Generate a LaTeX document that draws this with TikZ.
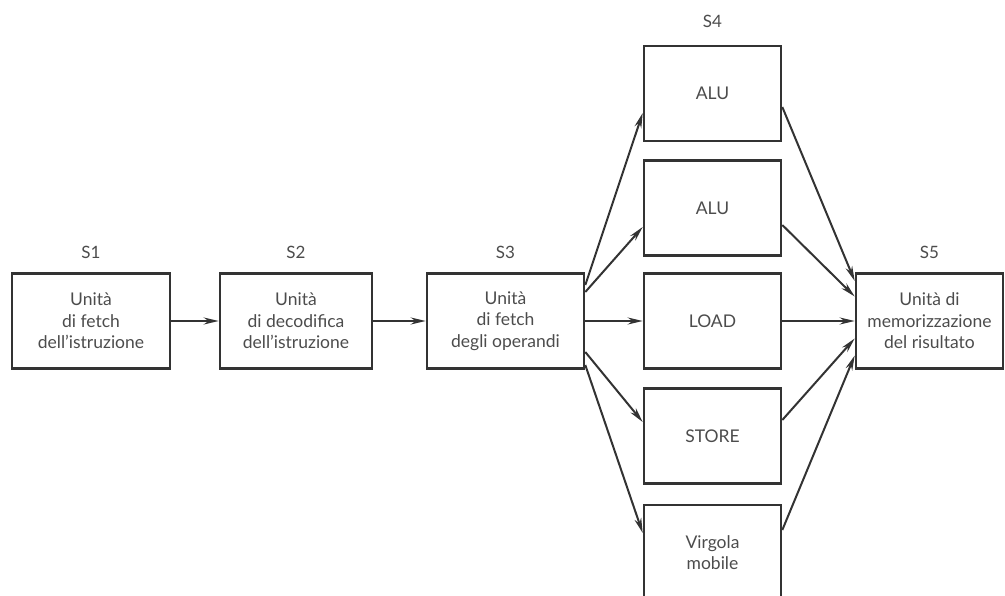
\documentclass[tikz,border=0pt]{standalone}
\usepackage{fontspec}
\setmainfont{Lato}
\usetikzlibrary{positioning,arrows.meta}
\tikzset{
  unit/.style={draw=black!80, line width=2.6pt, minimum height=95pt, inner sep=2pt,
    align=center, text=black!70, font=\fontsize{17.5}{21.5}\selectfont},
  stage/.style={text=black!70, font=\fontsize{17}{20}\selectfont},
  arr/.style={draw=black!80, line width=2pt, -{Stealth[length=15pt,width=7pt]}}
}
\begin{document}
\begin{tikzpicture}[x=1pt,y=-1pt]
  \useasboundingbox (0,0) rectangle (1005,596);
  \clip (0,0) rectangle (1005,596);
  \node[unit, minimum width=158pt] (s1) at (91,321) {Unità\\di fetch\\dell'istruzione};
  \node[unit, minimum width=152pt] (s2) at (296,321) {Unità\\di decodifica\\dell'istruzione};
  \node[unit, minimum width=157pt] (s3) at (505.5,321) {Unità\\di fetch\\degli operandi};
  \node[unit, minimum width=147pt] (s5) at (929.5,321) {Unità di\\memorizzazione\\del risultato};
  \foreach \name/\y/\txt in {alu1/93.5/ALU, alu2/208/ALU, load/321/LOAD, store/436/STORE,
      virgola/552.5/{Virgola\\mobile}} % units of stage S4
    \node[unit, minimum width=137pt] (\name) at (712.5,\y) {\txt};
  % stage labels
  \node[stage, above=10pt of s1] (l1) {S1};
  \node[stage, above=10pt of s2] (l2) {S2};
  \node[stage, above=10pt of s3] (l3) {S3};
  \node[stage, above=14pt of alu1] (l4) {S4};
  \node[stage, above=10pt of s5] (l5) {S5};
  \draw[arr] (s1) -- (s2);
  \draw[arr] (s2) -- (s3);
  \draw[arr] (s3) -- (load);
  \draw[arr] (load) -- (s5);
  \foreach \name/\a/\b in {alu1/36/-19.5, alu2/29/-19, store/-31/14, virgola/-44/19.5} % fan out
    \draw[arr] ([yshift=\a pt]s3.east) -- ([yshift=\b pt]\name.west);
  \foreach \name/\a/\b in {alu1/-13.5/40, alu2/-17/24.5, store/16/-17.5, virgola/22.5/-34.5} % fan in
    \draw[arr] ([yshift=\a pt]\name.east) -- ([yshift=\b pt]s5.west);
\end{tikzpicture}
\end{document}
